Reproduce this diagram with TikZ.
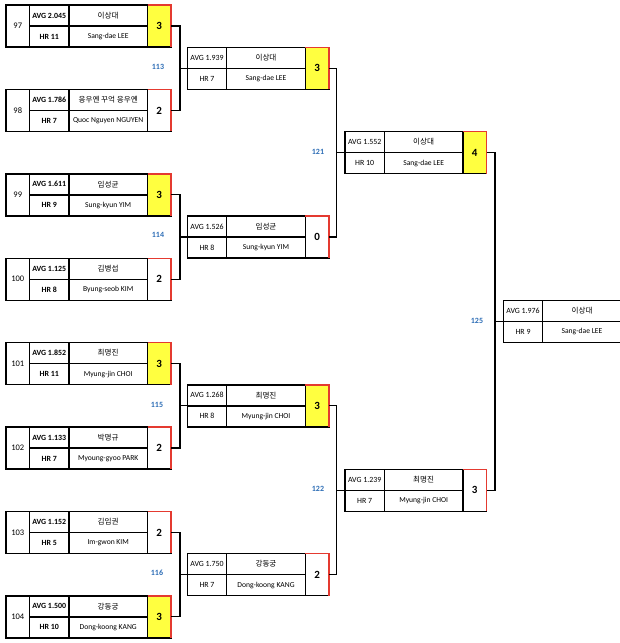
\documentclass[tikz,border=0pt]{standalone}
\usepackage{fontspec}
\setmainfont{Carlito}
\newfontfamily\kr{Noto Sans CJK KR}
\definecolor{winy}{RGB}{255,255,64}
\definecolor{edgered}{RGB}{228,58,48}
\definecolor{lblue}{RGB}{46,110,182}
\begin{document}
\begin{tikzpicture}[x=1pt,y=-1pt,
  cell/.style={draw, line width=1.4pt, inner sep=0pt, outer sep=0pt, anchor=north west, minimum height=21pt, font=\fontsize{7.6}{8}\selectfont},
  avgcell/.style={cell, minimum width=39.4pt, font=\fontsize{7.9}{8}\selectfont},
  avgbold/.style={avgcell, font=\fontsize{7.9}{8}\selectfont\bfseries},
  namecell/.style={cell, minimum width=78.6pt},
  numcell/.style={cell, minimum width=23.5pt, minimum height=42pt, font=\fontsize{8.5}{9}\selectfont},
  scorecell/.style={cell, minimum width=23.5pt, minimum height=42pt, font=\fontsize{11}{12}\selectfont\bfseries},
  redge/.style={draw=edgered, line width=1.4pt},
  conn/.style={draw, line width=1.3pt},
  lbl/.style={text=lblue, font=\fontsize{8}{9}\selectfont\bfseries, inner sep=0pt}]
\useasboundingbox (0,0) rectangle (620,643);
% round 1
\foreach \id/\Y/\avg/\hr/\kn/\en/\sc/\st in {
  97/26/2.045/11/이상대/Sang-dae LEE/3/winy,
  98/110.4/1.786/7/응우옌 꾸억 응우옌/Quoc Nguyen NGUYEN/2/white,
  99/194.8/1.611/9/임성균/Sung-kyun YIM/3/winy,
  100/279.2/1.125/8/김병섭/Byung-seob KIM/2/white,
  101/363.6/1.852/11/최명진/Myung-jin CHOI/3/winy,
  102/448/1.133/7/박명규/Myoung-gyoo PARK/2/white,
  103/532.4/1.152/5/김임권/Im-gwon KIM/2/white,
  104/616.8/1.500/10/강동궁/Dong-koong KANG/3/winy}{
  \node[numcell] (p\id n) at (6,\Y-21) {\id};
  \node[avgbold] (p\id a) at (29.5,\Y-21) {AVG \avg};
  \node[avgbold] (p\id h) at (29.5,\Y) {HR \hr};
  \node[namecell] (p\id k) at (68.9,\Y-21) {\kr \kn};
  \node[namecell] (p\id e) at (68.9,\Y) {\en};
  \node[scorecell, fill=\st] (p\id s) at (147.5,\Y-21) {\sc};
  \draw[redge] (p\id s.north west) -- (p\id s.north east) -- (p\id s.south east);
}
% later rounds
\foreach \id/\X/\Y/\avg/\hr/\kn/\en/\sc/\st in {
  113/187.3/68.2/1.939/7/이상대/Sang-dae LEE/3/winy,
  114/187.3/237/1.526/8/임성균/Sung-kyun YIM/0/white,
  115/187.3/405.8/1.268/8/최명진/Myung-jin CHOI/3/winy,
  116/187.3/574.6/1.750/7/강동궁/Dong-koong KANG/2/white,
  121/345/152.6/1.552/10/이상대/Sang-dae LEE/4/winy,
  122/345/490.2/1.239/7/최명진/Myung-jin CHOI/3/white}{
  \node[avgcell] (w\id a) at (\X,\Y-21) {AVG \avg};
  \node[avgcell] (w\id h) at (\X,\Y) {HR \hr};
  \node[namecell] (w\id k) at (\X+39.4,\Y-21) {\kr \kn};
  \node[namecell] (w\id e) at (\X+39.4,\Y) {\en};
  \node[scorecell, fill=\st] (w\id s) at (\X+118,\Y-21) {\sc};
  \draw[redge] (w\id s.north west) -- (w\id s.north east) -- (w\id s.south east);
}
% final
\node[avgcell] (w125a) at (503.3,300.4) {AVG 1.976};
\node[avgcell] (w125h) at (503.3,321.4) {HR 9};
\node[namecell] (w125k) at (542.7,300.4) {\kr 이상대};
\node[namecell] (w125e) at (542.7,321.4) {Sang-dae LEE};
% connectors
\coordinate (j113) at (180,68.2);
\coordinate (j114) at (180,237);
\coordinate (j115) at (180,405.8);
\coordinate (j116) at (180,574.6);
\coordinate (j121) at (336.7,152.6);
\coordinate (j122) at (336.7,490.2);
\coordinate (j125) at (495,321.4);
\draw[conn] (p97s.east) -| (j113) |- (p98s.east);
\draw[conn] (j113) -- (w113a.south west);
\draw[conn] (p99s.east) -| (j114) |- (p100s.east);
\draw[conn] (j114) -- (w114a.south west);
\draw[conn] (p101s.east) -| (j115) |- (p102s.east);
\draw[conn] (j115) -- (w115a.south west);
\draw[conn] (p103s.east) -| (j116) |- (p104s.east);
\draw[conn] (j116) -- (w116a.south west);
\draw[conn] (w113s.east) -| (j121) |- (w114s.east);
\draw[conn] (j121) -- (w121a.south west);
\draw[conn] (w115s.east) -| (j122) |- (w116s.east);
\draw[conn] (j122) -- (w122a.south west);
\draw[conn] (w121s.east) -| (j125) |- (w122s.east);
\draw[conn] (j125) -- (w125a.south west);
% match labels
\node[lbl] (l113) at (158,67) {113};
\node[lbl] (l114) at (158,235) {114};
\node[lbl] (l115) at (157,405) {115};
\node[lbl] (l116) at (157,573) {116};
\node[lbl] (l121) at (318,152) {121};
\node[lbl] (l122) at (318,489) {122};
\node[lbl] (l125) at (477,321) {125};
\end{tikzpicture}
\end{document}
